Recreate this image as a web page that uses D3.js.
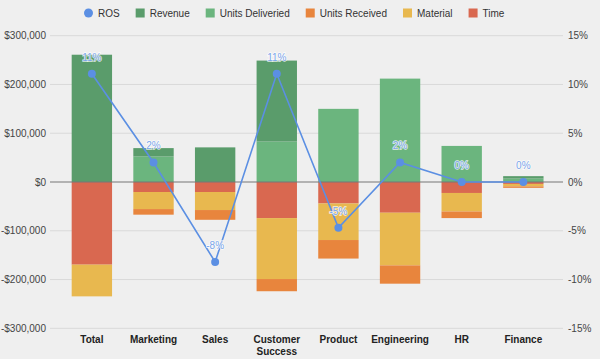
<!DOCTYPE html>
<html>
<head>
<meta charset="utf-8">
<script src="https://cdn.jsdelivr.net/npm/d3@7"></script>
<style>
  body { margin: 0; background: #efefef; }
  svg { display: block; font-family: "Liberation Sans", Arial, sans-serif; }
</style>
</head>
<body>
<svg id="chart" width="600" height="359"></svg>
<script>
var categories = ['Total', 'Marketing', 'Sales', 'Customer Success', 'Product', 'Engineering', 'HR', 'Finance'];
var revenue         = [261000, 17000, 71000, 166000, 0, 0, 0, 5000];
var unitsDelivered  = [0, 52500, 0, 83000, 150000, 212000, 74000, 7000];
var unitsReceived   = [0, -11500, -20000, -25000, -38000, -37500, -13500, -3000];
var material        = [-65000, -35000, -37000, -125000, -75000, -108000, -38000, -5000];
var time            = [-169500, -20500, -20500, -74000, -44000, -63000, -22500, -4000];
var ros             = [0.111, 0.02, -0.082, 0.111, -0.047, 0.02, 0, 0];
var leftTicks  = [-300000, -200000, -100000, 0, 100000, 200000, 300000];
var rightTicks = [-0.15, -0.10, -0.05, 0, 0.05, 0.10, 0.15];

var colors = {
  revenue: '#5a9c6b',
  delivered: '#6bb57e',
  received: '#e8853d',
  material: '#e8b84f',
  time: '#d96850',
  ros: '#5b8fe3'
};

// stacking order: positives go up from zero, negatives go down from zero
var posSeries = [
  {key: 'delivered', values: unitsDelivered},
  {key: 'revenue', values: revenue}
];
var negSeries = [
  {key: 'time', values: time},
  {key: 'material', values: material},
  {key: 'received', values: unitsReceived}
];

var svg = d3.select('#chart');
var gridX0 = 50, gridX1 = 563;

var x = d3.scaleBand()
  .domain(categories)
  .range([61.2, 554])
  .paddingInner(0.345)
  .paddingOuter(0.17);

var y = d3.scaleLinear().domain([-300000, 300000]).range([328.3, 35.7]);
var y2 = d3.scaleLinear().domain([-0.15, 0.15]).range([328.3, 35.7]);

// gridlines
svg.append('g')
  .selectAll('line')
  .data(leftTicks.filter(function(d) { return d !== 0; }))
  .enter()
  .append('line')
  .attr('x1', gridX0).attr('x2', gridX1)
  .attr('y1', function(d) { return y(d); })
  .attr('y2', function(d) { return y(d); })
  .attr('stroke', '#d9d9d9')
  .attr('stroke-width', 1);

// left axis labels
var fmtMoney = function(d) {
  var s = '$' + d3.format(',')(Math.abs(d));
  return d < 0 ? '-' + s : s;
};
svg.append('g')
  .selectAll('text')
  .data(leftTicks)
  .enter()
  .append('text')
  .attr('x', 46)
  .attr('y', function(d) { return y(d) + 3.5; })
  .attr('text-anchor', 'end')
  .attr('font-size', 10)
  .attr('fill', '#444')
  .text(fmtMoney);

// right axis labels
svg.append('g')
  .selectAll('text')
  .data(rightTicks)
  .enter()
  .append('text')
  .attr('x', 568)
  .attr('y', function(d) { return y2(d) + 3.5; })
  .attr('font-size', 10)
  .attr('fill', '#444')
  .text(function(d) { return d3.format('.0%')(d).replace('−', '-'); });

// stacked bars
var bars = svg.append('g');
function drawStack(series) {
  var base = categories.map(function() { return 0; });
  series.forEach(function(s) {
    var segs = categories.map(function(c, i) {
      return {cat: c, y0: base[i], y1: base[i] + s.values[i]};
    }).filter(function(d) { return d.y0 !== d.y1; });

    bars.selectAll(null)
      .data(segs)
      .enter()
      .append('rect')
      .attr('x', function(d) { return x(d.cat); })
      .attr('width', x.bandwidth())
      .attr('y', function(d) { return y(Math.max(d.y0, d.y1)); })
      .attr('height', function(d) { return Math.abs(y(d.y0) - y(d.y1)); })
      .attr('fill', colors[s.key]);

    base = base.map(function(b, i) { return b + s.values[i]; });
  });
}
drawStack(posSeries);
drawStack(negSeries);

// zero line
svg.append('line')
  .attr('x1', gridX0).attr('x2', gridX1)
  .attr('y1', y(0)).attr('y2', y(0))
  .attr('stroke', '#777')
  .attr('stroke-width', 1.2);

// ROS line
var cx = function(c) { return x(c) + x.bandwidth() / 2; };
var line = d3.line()
  .x(function(d, i) { return cx(categories[i]); })
  .y(function(d) { return y2(d); });

svg.append('path')
  .datum(ros)
  .attr('d', line)
  .attr('fill', 'none')
  .attr('stroke', colors.ros)
  .attr('stroke-width', 1.6);

svg.append('g')
  .selectAll('circle')
  .data(ros)
  .enter()
  .append('circle')
  .attr('cx', function(d, i) { return cx(categories[i]); })
  .attr('cy', function(d) { return y2(d); })
  .attr('r', 4)
  .attr('fill', colors.ros);

// ROS labels
svg.append('g')
  .selectAll('text')
  .data(ros)
  .enter()
  .append('text')
  .attr('x', function(d, i) { return cx(categories[i]); })
  .attr('y', function(d) { return y2(d) - 13; })
  .attr('text-anchor', 'middle')
  .attr('font-size', 10)
  .attr('fill', '#7aa5ea')
  .attr('stroke', '#ffffff')
  .attr('stroke-width', 1.5)
  .attr('stroke-opacity', 0.8)
  .attr('paint-order', 'stroke')
  .text(function(d) { return d3.format('.0%')(d).replace('−', '-'); });

// category labels
var catG = svg.append('g')
  .selectAll('text')
  .data(categories)
  .enter()
  .append('text')
  .attr('text-anchor', 'middle')
  .attr('font-size', 10)
  .attr('font-weight', 'bold')
  .attr('fill', '#222')
  .attr('y', 343);
catG.each(function(c) {
  var t = d3.select(this);
  var words = c === 'Customer Success' ? ['Customer', 'Success'] : [c];
  words.forEach(function(w, i) {
    t.append('tspan')
      .attr('x', cx(c))
      .attr('dy', i === 0 ? 0 : 11.5)
      .text(w);
  });
});

// legend
var legendItems = [
  {name: 'ROS', key: 'ros', circle: true},
  {name: 'Revenue', key: 'revenue'},
  {name: 'Units Deliveried', key: 'delivered'},
  {name: 'Units Received', key: 'received'},
  {name: 'Material', key: 'material'},
  {name: 'Time', key: 'time'}
];
var legend = svg.append('g');
var lx = 84;
legendItems.forEach(function(it) {
  if (it.circle) {
    legend.append('circle').attr('cx', lx + 4.5).attr('cy', 13).attr('r', 4.5).attr('fill', colors[it.key]);
  } else {
    legend.append('rect').attr('x', lx).attr('y', 8.5).attr('width', 9).attr('height', 9).attr('fill', colors[it.key]);
  }
  var t = legend.append('text')
    .attr('x', lx + 14)
    .attr('y', 16.5)
    .attr('font-size', 10)
    .attr('fill', '#333')
    .text(it.name);
  lx += 14 + t.node().getComputedTextLength() + 16;
});
</script>
</body>
</html>
